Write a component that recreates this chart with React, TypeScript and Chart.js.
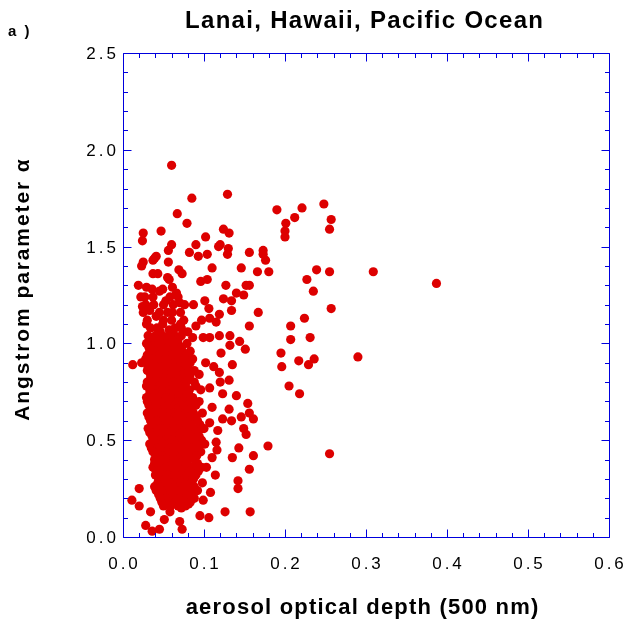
import { useEffect, useRef } from 'react';
import { Chart, registerables } from 'chart.js';

Chart.register(...registerables);

// ---------- tick labels ----------
const xTickValues = [0, 0.1, 0.2, 0.3, 0.4, 0.5, 0.6];
const xTickLabels = ['0.0', '0.1', '0.2', '0.3', '0.4', '0.5', '0.6'];
const yTickValues = [0, 0.5, 1.0, 1.5, 2.0, 2.5];
const yTickLabels = ['0.0', '0.5', '1.0', '1.5', '2.0', '2.5'];

const chartTitle = 'Lanai, Hawaii, Pacific Ocean';
const xAxisTitle = 'aerosol optical depth (500 nm)';
const yAxisTitle = 'Angstrom parameter α';
const panelLabel = 'a )';

// ---------- observations: [aerosol optical depth, Angstrom alpha] ----------
const highAlphaObs: [number, number][] = [
  [0.060, 1.92], [0.085, 1.75], [0.129, 1.77], [0.067, 1.67], [0.079, 1.62],
  [0.025, 1.57], [0.024, 1.53], [0.047, 1.58], [0.060, 1.51], [0.056, 1.48],
  [0.056, 1.42], [0.090, 1.51], [0.102, 1.55], [0.082, 1.47], [0.093, 1.45],
  [0.104, 1.46], [0.118, 1.50], [0.120, 1.51], [0.124, 1.59], [0.131, 1.57],
  [0.130, 1.49], [0.129, 1.46], [0.156, 1.47], [0.146, 1.39], [0.110, 1.39],
  [0.069, 1.38], [0.073, 1.36], [0.037, 1.43], [0.041, 1.45], [0.025, 1.42],
  [0.023, 1.40], [0.166, 1.37], [0.173, 1.48], [0.173, 1.46], [0.176, 1.43],
  [0.180, 1.37],
];

const farObs: [number, number][] = [
  [0.190, 1.69], [0.221, 1.70], [0.212, 1.65], [0.201, 1.62], [0.200, 1.58],
  [0.200, 1.55], [0.248, 1.72], [0.257, 1.64], [0.255, 1.59], [0.239, 1.38],
  [0.255, 1.37], [0.227, 1.33], [0.235, 1.27], [0.309, 1.37], [0.387, 1.31],
  [0.257, 1.18], [0.224, 1.13], [0.207, 1.09], [0.231, 1.03], [0.207, 1.02],
  [0.195, 0.95], [0.196, 0.88], [0.217, 0.91], [0.229, 0.89], [0.236, 0.92],
  [0.205, 0.78], [0.218, 0.74], [0.290, 0.93], [0.255, 0.43], [0.179, 0.47],
];

const midObs: [number, number][] = [
  [0.156, 1.30], [0.167, 1.16], [0.156, 1.09], [0.127, 1.30], [0.152, 1.30],
  [0.140, 1.26], [0.149, 1.25], [0.124, 1.23], [0.134, 1.22], [0.134, 1.17],
  [0.119, 1.15], [0.087, 1.20], [0.101, 1.22], [0.106, 1.18], [0.096, 1.32],
  [0.104, 1.33], [0.076, 1.20], [0.071, 1.16], [0.071, 1.10], [0.119, 1.04],
  [0.132, 1.04], [0.144, 1.01], [0.132, 0.99], [0.151, 0.97], [0.121, 0.95],
  [0.135, 0.89], [0.090, 1.09], [0.097, 1.12], [0.107, 1.13], [0.115, 1.11],
  [0.099, 1.03], [0.086, 1.03], [0.107, 1.03],
  [0.154, 0.69], [0.156, 0.64], [0.161, 0.61], [0.146, 0.62], [0.149, 0.56],
  [0.152, 0.53], [0.143, 0.46], [0.161, 0.42], [0.135, 0.41], [0.156, 0.35],
  [0.142, 0.29], [0.142, 0.25], [0.126, 0.13], [0.157, 0.13], [0.106, 0.10],
  [0.114, 0.32], [0.140, 0.73], [0.116, 0.45], [0.115, 0.49], [0.101, 0.48],
  [0.108, 0.23], [0.099, 0.19], [0.081, 0.17], [0.072, 0.15],
  [0.102, 0.90], [0.112, 0.88], [0.119, 0.85], [0.131, 0.81], [0.120, 0.80],
  [0.107, 0.77], [0.123, 0.74], [0.110, 0.67], [0.131, 0.66], [0.123, 0.61],
  [0.134, 0.60], [0.107, 0.59], [0.117, 0.55], [0.098, 0.56], [0.110, 0.41],
  [0.103, 0.36], [0.098, 0.28],
];

const lowObs: [number, number][] = [
  [0.012, 0.89], [0.023, 0.90], [0.020, 0.25], [0.011, 0.19], [0.020, 0.16],
  [0.034, 0.13], [0.028, 0.06], [0.036, 0.03], [0.045, 0.04], [0.051, 0.09],
  [0.058, 0.13], [0.070, 0.08], [0.073, 0.04], [0.095, 0.11],
];

const upperObs: [number, number][] = [
  [0.049, 1.28], [0.066, 1.26], [0.057, 1.33], [0.039, 1.44], [0.037, 1.36],
  [0.043, 1.36], [0.055, 1.34], [0.019, 1.30], [0.029, 1.29], [0.027, 1.24],
  [0.037, 1.24], [0.045, 1.27], [0.053, 1.22], [0.061, 1.29], [0.070, 1.21],
  [0.024, 1.19], [0.033, 1.17], [0.041, 1.14], [0.029, 1.10], [0.049, 1.10],
  [0.061, 1.16], [0.057, 1.07], [0.037, 1.03], [0.045, 1.00], [0.061, 1.01],
  [0.072, 0.98], [0.036, 1.28], [0.022, 1.24], [0.058, 1.24], [0.068, 1.24],
  [0.028, 1.20], [0.038, 1.20], [0.050, 1.20], [0.062, 1.20], [0.025, 1.16],
  [0.045, 1.16], [0.055, 1.16], [0.030, 1.12], [0.050, 1.12], [0.060, 1.12],
  [0.075, 1.12], [0.034, 1.08], [0.042, 1.08], [0.064, 1.08], [0.072, 1.08],
  [0.046, 1.06], [0.080, 1.06],
];

// dense core, listed by alpha level: [alpha, aod values at that level]
const coreRows: [number, number[]][] = [
  [1.04, [0.031, 0.040, 0.048, 0.056, 0.064, 0.072]],
  [1.02, [0.035, 0.044, 0.052, 0.060, 0.068]],
  [1.00, [0.029, 0.036, 0.044, 0.052, 0.060, 0.068, 0.079]],
  [0.98, [0.032, 0.040, 0.048, 0.056, 0.064, 0.072]],
  [0.96, [0.033, 0.041, 0.049, 0.057, 0.065, 0.073, 0.083]],
  [0.94, [0.030, 0.037, 0.045, 0.053, 0.061, 0.069, 0.078]],
  [0.92, [0.028, 0.036, 0.044, 0.052, 0.060, 0.068, 0.076, 0.086]],
  [0.90, [0.032, 0.040, 0.048, 0.056, 0.064, 0.072, 0.083]],
  [0.88, [0.031, 0.039, 0.047, 0.055, 0.063, 0.071, 0.080]],
  [0.86, [0.030, 0.038, 0.046, 0.054, 0.062, 0.070, 0.078, 0.088]],
  [0.84, [0.034, 0.042, 0.050, 0.058, 0.066, 0.074, 0.083, 0.094]],
  [0.82, [0.034, 0.042, 0.050, 0.058, 0.066, 0.074, 0.082]],
  [0.80, [0.030, 0.038, 0.046, 0.054, 0.062, 0.070, 0.078, 0.088]],
  [0.78, [0.029, 0.037, 0.045, 0.053, 0.061, 0.069, 0.077, 0.090]],
  [0.76, [0.033, 0.041, 0.049, 0.057, 0.065, 0.073, 0.082, 0.096]],
  [0.74, [0.033, 0.041, 0.049, 0.057, 0.065, 0.073, 0.081]],
  [0.72, [0.029, 0.037, 0.045, 0.053, 0.061, 0.069, 0.077, 0.086]],
  [0.70, [0.030, 0.036, 0.044, 0.052, 0.060, 0.068, 0.076, 0.084, 0.094]],
  [0.68, [0.032, 0.040, 0.048, 0.056, 0.064, 0.072, 0.080, 0.090]],
  [0.66, [0.034, 0.042, 0.050, 0.058, 0.066, 0.074, 0.083]],
  [0.64, [0.030, 0.038, 0.046, 0.054, 0.062, 0.070, 0.078, 0.087, 0.098]],
  [0.62, [0.032, 0.040, 0.048, 0.056, 0.064, 0.072, 0.080, 0.090]],
  [0.60, [0.034, 0.042, 0.050, 0.058, 0.066, 0.074, 0.082, 0.092]],
  [0.58, [0.036, 0.044, 0.052, 0.060, 0.068, 0.076, 0.084, 0.095]],
  [0.56, [0.031, 0.039, 0.047, 0.055, 0.063, 0.071, 0.079, 0.088, 0.100]],
  [0.54, [0.033, 0.041, 0.049, 0.057, 0.065, 0.073, 0.081, 0.090]],
  [0.52, [0.036, 0.044, 0.052, 0.060, 0.068, 0.076, 0.084, 0.094]],
  [0.50, [0.037, 0.045, 0.053, 0.061, 0.069, 0.077, 0.086, 0.097]],
  [0.48, [0.033, 0.041, 0.049, 0.057, 0.065, 0.073, 0.081, 0.090]],
  [0.46, [0.035, 0.043, 0.051, 0.059, 0.067, 0.075, 0.083, 0.093]],
  [0.44, [0.037, 0.045, 0.053, 0.061, 0.069, 0.077, 0.085, 0.096]],
  [0.42, [0.041, 0.049, 0.057, 0.065, 0.073, 0.081, 0.091]],
  [0.40, [0.039, 0.047, 0.055, 0.063, 0.071, 0.079, 0.088]],
  [0.38, [0.039, 0.047, 0.055, 0.063, 0.071, 0.079, 0.092]],
  [0.36, [0.037, 0.045, 0.053, 0.061, 0.069, 0.077, 0.086, 0.097]],
  [0.34, [0.041, 0.049, 0.057, 0.065, 0.073, 0.082, 0.093]],
  [0.32, [0.040, 0.048, 0.056, 0.064, 0.072, 0.080, 0.090]],
  [0.30, [0.044, 0.052, 0.060, 0.068, 0.076, 0.087]],
  [0.28, [0.043, 0.051, 0.059, 0.067, 0.075, 0.084]],
  [0.26, [0.039, 0.047, 0.055, 0.063, 0.071, 0.079, 0.088]],
  [0.24, [0.041, 0.049, 0.057, 0.065, 0.073, 0.081, 0.092]],
  [0.22, [0.044, 0.051, 0.059, 0.067, 0.076, 0.085]],
  [0.20, [0.046, 0.054, 0.062, 0.070, 0.079, 0.088]],
  [0.18, [0.048, 0.056, 0.064, 0.073, 0.083]],
  [0.16, [0.050, 0.059, 0.068, 0.077]],
];

const BLUE = '#0000dd';
const RED = '#dd0000';
const FONT = '"Liberation Sans", Arial, Helvetica, sans-serif';

function spacedText(
  ctx: CanvasRenderingContext2D,
  text: string,
  x: number,
  y: number,
  font: string,
  spacing: number,
  align: 'left' | 'center' | 'right',
) {
  ctx.font = font;
  (ctx as any).letterSpacing = spacing + 'px';
  const w = ctx.measureText(text).width - spacing;
  let sx = x;
  if (align === 'center') sx = x - w / 2;
  else if (align === 'right') sx = x - w;
  ctx.textAlign = 'left';
  ctx.fillText(text, sx, y);
  (ctx as any).letterSpacing = '0px';
}

const framePlugin = {
  id: 'igorFrame',
  afterDraw(chart: any) {
    const { ctx, chartArea, scales } = chart;
    const { left, right, top, bottom } = chartArea;
    const xs = scales.x;
    const ys = scales.y;
    ctx.save();
    ctx.strokeStyle = BLUE;
    ctx.lineWidth = 1;
    ctx.beginPath();
    ctx.rect(left + 0.5, top + 0.5, right - left, bottom - top);
    ctx.stroke();

    const major = 8;
    const minor = 4.5;
    ctx.beginPath();
    for (let i = 0; i <= 30; i++) {
      const v = i * 0.02;
      const px = Math.round(xs.getPixelForValue(v)) + 0.5;
      const len = i % 5 === 0 ? major : minor;
      ctx.moveTo(px, bottom + 0.5);
      ctx.lineTo(px, bottom + 0.5 - len);
      ctx.moveTo(px, top + 0.5);
      ctx.lineTo(px, top + 0.5 + len);
    }
    for (let i = 0; i <= 25; i++) {
      const v = i * 0.1;
      const py = Math.round(ys.getPixelForValue(v)) + 0.5;
      const len = i % 5 === 0 ? major : minor;
      ctx.moveTo(left + 0.5, py);
      ctx.lineTo(left + 0.5 + len, py);
      ctx.moveTo(right + 0.5, py);
      ctx.lineTo(right + 0.5 - len, py);
    }
    ctx.stroke();

    // tick labels
    ctx.fillStyle = '#000';
    ctx.textBaseline = 'alphabetic';
    const tickFont = `17px ${FONT}`;
    xTickValues.forEach((v, i) => {
      spacedText(ctx, xTickLabels[i], xs.getPixelForValue(v), bottom + 32, tickFont, 3, 'center');
    });
    yTickValues.forEach((v, i) => {
      spacedText(ctx, yTickLabels[i], left - 7, ys.getPixelForValue(v) + 6, tickFont, 3, 'right');
    });

    // titles
    const cx = (left + right) / 2;
    spacedText(ctx, chartTitle, cx - 2, 28, `bold 24px ${FONT}`, 1.3, 'center');
    spacedText(ctx, xAxisTitle, cx - 4, 614, `bold 22px ${FONT}`, 1.2, 'center');
    ctx.save();
    ctx.translate(29, (top + bottom) / 2 - 5);
    ctx.rotate(-Math.PI / 2);
    spacedText(ctx, yAxisTitle, 0, 0, `bold 21px ${FONT}`, 1.9, 'center');
    ctx.restore();
    spacedText(ctx, panelLabel, 8, 36, `bold 15px ${FONT}`, 2, 'left');
    ctx.restore();
  },
};

export default function App() {
  const canvasRef = useRef<HTMLCanvasElement | null>(null);

  useEffect(() => {
    if (!canvasRef.current) return;
    const corePoints: [number, number][] = [];
    coreRows.forEach(([a, xs]) => xs.forEach((x) => corePoints.push([x, a])));
    const all = [...corePoints, ...upperObs, ...midObs, ...lowObs, ...highAlphaObs, ...farObs];
    const chart = new Chart(canvasRef.current, {
      type: 'scatter',
      data: {
        datasets: [
          {
            data: all.map(([x, y]) => ({ x, y })),
            pointRadius: 4.6,
            pointHoverRadius: 4.6,
            pointBackgroundColor: RED,
            pointBorderWidth: 0,
            borderWidth: 0,
          },
        ],
      },
      options: {
        animation: false,
        responsive: false,
        events: [],
        layout: { padding: { top: 53, right: 22, left: 0, bottom: 0 } },
        plugins: { legend: { display: false }, tooltip: { enabled: false }, title: { display: false } },
        scales: {
          x: {
            type: 'linear',
            min: 0,
            max: 0.6,
            ticks: { display: false },
            grid: { display: false },
            border: { display: false },
            afterFit: (s: any) => {
              s.height = 92;
            },
          },
          y: {
            type: 'linear',
            min: 0,
            max: 2.5,
            ticks: { display: false },
            grid: { display: false },
            border: { display: false },
            afterFit: (s: any) => {
              s.width = 123;
            },
          },
        },
      },
      plugins: [framePlugin],
    });
    return () => chart.destroy();
  }, []);

  return (
    <div style={{ position: 'fixed', left: 0, top: 0, width: 631, height: 629, background: '#fff' }}>
      <canvas ref={canvasRef} width={631} height={629} style={{ display: 'block' }} />
    </div>
  );
}
